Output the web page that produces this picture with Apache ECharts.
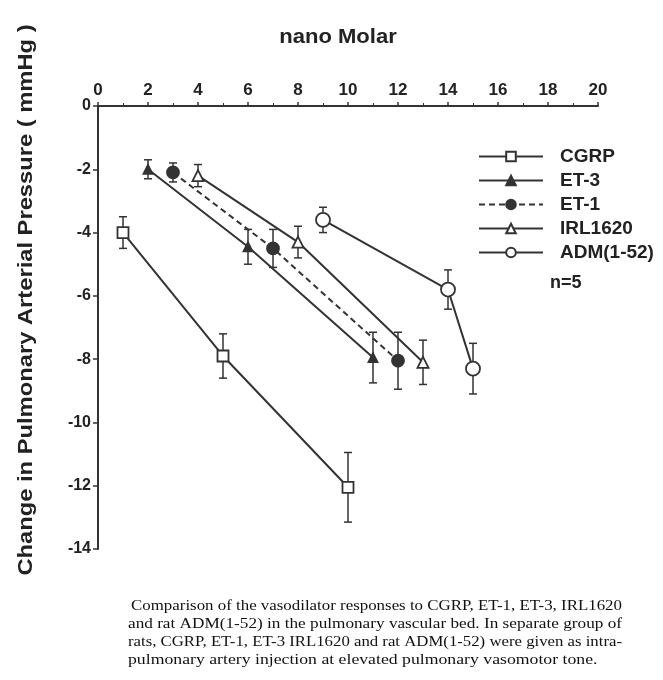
<!DOCTYPE html>
<html>
<head>
<meta charset="utf-8">
<script src="https://cdn.jsdelivr.net/npm/echarts@6/dist/echarts.min.js"></script>
<style>
    html, body { margin: 0; padding: 0; background: #fff; }
    #chart { width: 663px; height: 680px; }
</style>
</head>
<body>
<div id="chart"></div>
<script>
// concentrations (nM) and responses (mmHg), mean and error
const cgrpX = [1, 5, 10];
const cgrpY = [-4.0, -7.9, -12.05];
const cgrpErr = [0.5, 0.7, 1.1];

const et3X = [2, 6, 11];
const et3Y = [-2.0, -4.45, -7.95];
const et3Err = [0.3, 0.55, 0.8];

const et1X = [3, 7, 12];
const et1Y = [-2.1, -4.5, -8.05];
const et1Err = [0.3, 0.6, 0.9];

const irlX = [4, 8, 13];
const irlY = [-2.2, -4.3, -8.1];
const irlErr = [0.35, 0.5, 0.7];

const admX = [9, 14, 15];
const admY = [-3.6, -5.8, -8.3];
const admErr = [0.4, 0.62, 0.8];

const xTicks = [0, 2, 4, 6, 8, 10, 12, 14, 16, 18, 20];
const yTicks = [0, -2, -4, -6, -8, -10, -12, -14];

const captionLines = [
    "Comparison of the vasodilator responses to CGRP, ET-1, ET-3, IRL1620",
    "and rat ADM(1-52) in the pulmonary vascular bed. In separate group of",
    "rats, CGRP, ET-1, ET-3 IRL1620 and rat ADM(1-52) were given as intra-",
    "pulmonary artery injection at elevated pulmonary vasomotor tone."
];

const ink = "#333";
const sans = "Liberation Sans, Arial, sans-serif";
const serif = "Liberation Serif, Times New Roman, serif";

const zip = (xs, ys) => xs.map((x, i) => [x, ys[i]]);
const zipErr = (xs, ys, es) => xs.map((x, i) => [x, ys[i], es[i]]);

// the caption in the scan is justified, so stretch each line to the same width
const capFont = 15;
const measure = document.createElement("canvas").getContext("2d");
measure.font = capFont + "px " + serif;
const capLeft = [131, 128, 128, 128];
const capRight = 622;
const capScale = captionLines.map((t, i) => (capRight - capLeft[i]) / measure.measureText(t).width);
capScale[3] = capScale[1] * 1.03;

const chart = echarts.init(document.getElementById("chart"));

const lineSeries = (name, xs, ys, symbol, size, filled, dashed) => ({
    name: name,
    type: "line",
    data: zip(xs, ys),
    symbol: symbol,
    symbolSize: size,
    showAllSymbol: true,
    z: 3,
    lineStyle: { color: ink, width: 2, type: dashed ? [6, 4] : "solid" },
    itemStyle: {
        color: filled ? ink : "#fff",
        borderColor: ink,
        borderWidth: 1.8,
    },
    emphasis: { disabled: true },
});

const errData = [].concat(
    zipErr(cgrpX, cgrpY, cgrpErr),
    zipErr(et3X, et3Y, et3Err),
    zipErr(et1X, et1Y, et1Err),
    zipErr(irlX, irlY, irlErr),
    zipErr(admX, admY, admErr)
);

let options = {
    animation: false,
    grid: {
        left: 98,
        right: 65,
        top: 106,
        bottom: 131,
    },
    legend: {
        orient: "vertical",
        left: 473,
        top: 142,
        itemWidth: 64,
        itemHeight: 12,
        itemGap: 5,
        data: ["CGRP", "ET-3", "ET-1", "IRL1620", "ADM(1-52)"],
        textStyle: {
            fontFamily: sans,
            fontSize: 19,
            fontWeight: "bold",
            color: "#222",
            padding: [0, 0, 0, 12],
        },
    },
    xAxis: {
        type: "value",
        position: "top",
        min: 0,
        max: 20,
        interval: 2,
        splitLine: { show: false },
        axisLine: { show: true, lineStyle: { color: ink, width: 2 } },
        axisTick: { show: true, inside: false, length: 4, lineStyle: { color: ink, width: 1.5 } },
        minorTick: { show: true, splitNumber: 2, length: 3, lineStyle: { color: ink } },
        axisLabel: {
            fontFamily: sans,
            fontSize: 17,
            fontWeight: "bold",
            color: "#222",
            margin: 7,
            formatter: (v) => (xTicks.includes(v) ? String(v) : ""),
        },
    },
    yAxis: {
        type: "value",
        min: -14,
        max: 0,
        interval: 2,
        splitLine: { show: false },
        axisLine: { show: true, lineStyle: { color: ink, width: 2 } },
        axisTick: { show: true, inside: false, length: 5, lineStyle: { color: ink, width: 1.5 } },
        axisLabel: {
            fontFamily: sans,
            fontSize: 16,
            fontWeight: "bold",
            color: "#222",
            margin: 7,
            formatter: (v) => (yTicks.includes(v) ? String(v) : ""),
        },
    },
    graphic: [
        {
            type: "text",
            x: 338,
            y: 37,
            scaleX: 1.05,
            style: {
                text: "nano Molar",
                fontFamily: sans,
                fontSize: 21,
                fontWeight: "bold",
                fill: "#222",
                align: "center",
                verticalAlign: "middle",
            },
        },
        {
            type: "text",
            x: 26,
            y: 300,
            rotation: Math.PI / 2,
            scaleX: 1.13,
            style: {
                text: "Change in Pulmonary Arterial Pressure ( mmHg )",
                fontFamily: sans,
                fontSize: 21,
                fontWeight: "bold",
                fill: "#222",
                align: "center",
                verticalAlign: "middle",
            },
        },
        {
            type: "text",
            x: 550,
            y: 283,
            style: {
                text: "n=5",
                fontFamily: sans,
                fontSize: 18,
                fontWeight: "bold",
                fill: "#222",
                verticalAlign: "middle",
            },
        },
    ].concat(captionLines.map((t, i) => ({
        type: "text",
        x: capLeft[i],
        y: 606 + i * 18,
        scaleX: capScale[i],
        style: {
            text: t,
            fontFamily: serif,
            fontSize: capFont,
            fill: "#111",
            verticalAlign: "middle",
        },
    }))),
    series: [
        {
            name: "errorbars",
            type: "custom",
            z: 1,
            silent: true,
            data: errData,
            renderItem: (params, api) => {
                const x = api.value(0);
                const y = api.value(1);
                const e = api.value(2);
                const hi = api.coord([x, y + e]);
                const lo = api.coord([x, y - e]);
                const w = 4;
                const st = { stroke: ink, lineWidth: 1.5 };
                return {
                    type: "group",
                    children: [
                        { type: "line", shape: { x1: hi[0], y1: hi[1], x2: lo[0], y2: lo[1] }, style: st },
                        { type: "line", shape: { x1: hi[0] - w, y1: hi[1], x2: hi[0] + w, y2: hi[1] }, style: st },
                        { type: "line", shape: { x1: lo[0] - w, y1: lo[1], x2: lo[0] + w, y2: lo[1] }, style: st },
                    ],
                };
            },
        },
        lineSeries("CGRP", cgrpX, cgrpY, "rect", 11, false, false),
        lineSeries("ET-3", et3X, et3Y, "triangle", 9, true, false),
        lineSeries("ET-1", et1X, et1Y, "circle", 12, true, true),
        lineSeries("IRL1620", irlX, irlY, "triangle", 11, false, false),
        lineSeries("ADM(1-52)", admX, admY, "circle", 14, false, false),
    ],
};

chart.setOption(options);
</script>
</body>
</html>
